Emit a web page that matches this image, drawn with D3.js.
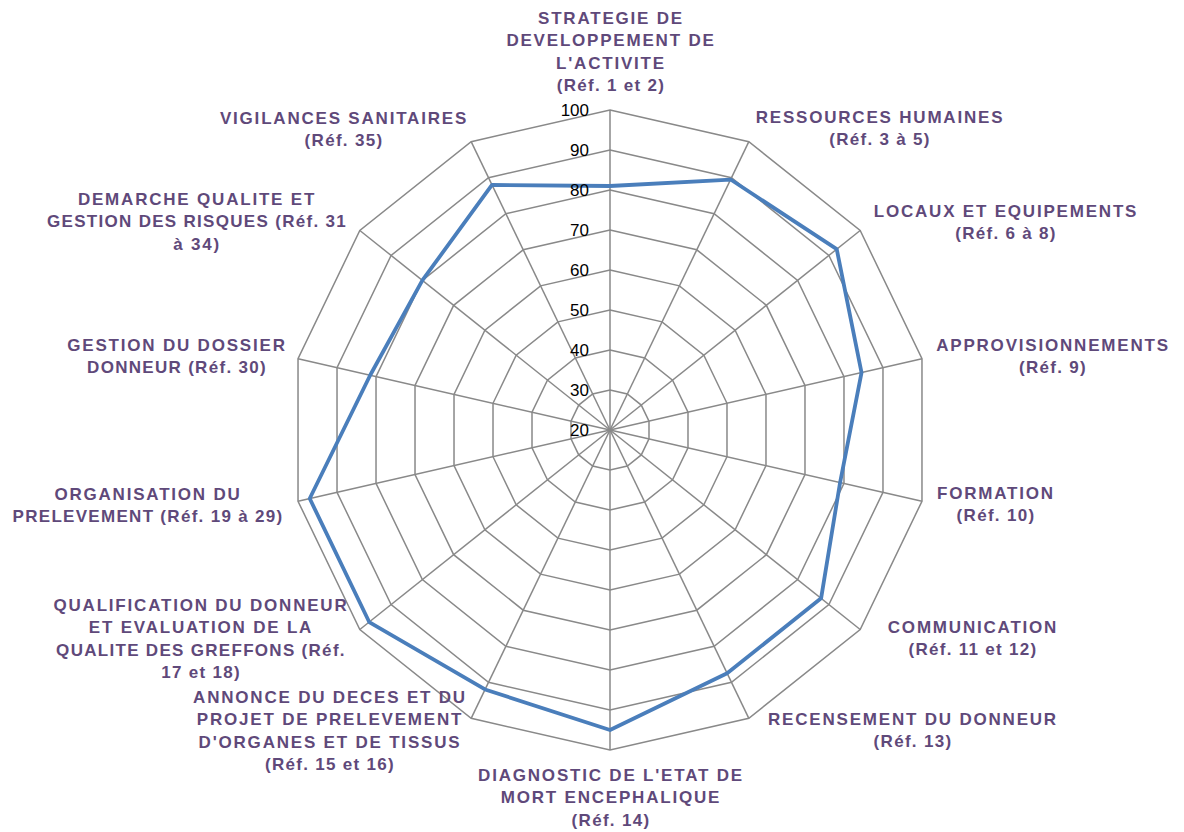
<!DOCTYPE html>
<html>
<head>
<meta charset="utf-8">
<script src="https://cdn.jsdelivr.net/npm/d3@7"></script>
<style>
  html, body { margin: 0; padding: 0; background: #ffffff; }
  svg { display: block; }
</style>
</head>
<body>
<svg id="chart" width="1184" height="832"></svg>
<script>
// ---- Data ----
const categories = [
  "STRATEGIE DE\nDEVELOPPEMENT DE\nL'ACTIVITE\n(Réf. 1 et 2)",
  "RESSOURCES HUMAINES\n(Réf. 3 à 5)",
  "LOCAUX ET EQUIPEMENTS\n(Réf. 6 à 8)",
  "APPROVISIONNEMENTS\n(Réf. 9)",
  "FORMATION\n(Réf. 10)",
  "COMMUNICATION\n(Réf. 11 et 12)",
  "RECENSEMENT DU DONNEUR\n(Réf. 13)",
  "DIAGNOSTIC DE L'ETAT DE\nMORT ENCEPHALIQUE\n(Réf. 14)",
  "ANNONCE DU DECES ET DU\nPROJET DE PRELEVEMENT\nD'ORGANES ET DE TISSUS\n(Réf. 15 et 16)",
  "QUALIFICATION DU DONNEUR\nET EVALUATION DE LA\nQUALITE DES GREFFONS (Réf.\n17 et 18)",
  "ORGANISATION DU\nPRELEVEMENT (Réf. 19 à 29)",
  "GESTION DU DOSSIER\nDONNEUR (Réf. 30)",
  "DEMARCHE QUALITE ET\nGESTION DES RISQUES (Réf. 31\nà 34)",
  "VIGILANCES SANITAIRES\n(Réf. 35)"
];
const scores = [81, 89.5, 92.5, 84.5, 79, 87.5, 87.5, 95, 92, 97, 97, 81.5, 80, 88];
const tickValues = [20, 30, 40, 50, 60, 70, 80, 90, 100];

// ---- Layout (positions of category label blocks: centre x, first line y) ----
const labelAnchors = [
  [611, 18], [880, 117], [1006, 211], [1053, 345], [996, 493], [973, 627],
  [913, 719], [611, 775], [330, 697], [201, 605], [148, 494], [177, 345],
  [197, 199], [344, 118]
];
const lineHeight = 22.6;
const cx = 610, cy = 430, outerR = 320;

const svg = d3.select("#chart");
const g = svg.append("g").attr("transform", `translate(${cx},${cy})`);

const n = categories.length;
const angle = d3.scaleLinear().domain([0, n]).range([0, 2 * Math.PI]);
const r = d3.scaleLinear().domain([20, 100]).range([0, outerR]);

const gridColor = "#898989";

// rings
const ringLine = d3.lineRadial().curve(d3.curveLinearClosed);
tickValues.filter(t => t > 20).forEach(t => {
  g.append("path")
    .attr("d", ringLine(d3.range(n).map(i => [angle(i), r(t)])))
    .attr("fill", "none")
    .attr("stroke", gridColor)
    .attr("stroke-width", 1.5);
});

// spokes
d3.range(n).forEach(i => {
  const a = angle(i);
  g.append("line")
    .attr("x1", 0).attr("y1", 0)
    .attr("x2", r(100) * Math.sin(a))
    .attr("y2", -r(100) * Math.cos(a))
    .attr("stroke", gridColor)
    .attr("stroke-width", 1.5);
});

// data line
const dataLine = d3.lineRadial()
  .angle((d, i) => angle(i))
  .radius(d => r(d))
  .curve(d3.curveLinearClosed);
g.append("path")
  .attr("d", dataLine(scores))
  .attr("fill", "none")
  .attr("stroke", "#4A7EBB")
  .attr("stroke-width", 3.8)
  .attr("stroke-linejoin", "round");

// tick labels
g.selectAll("text.tick")
  .data(tickValues)
  .join("text")
  .attr("class", "tick")
  .attr("x", -21)
  .attr("y", d => -r(d))
  .attr("text-anchor", "end")
  .attr("dominant-baseline", "central")
  .attr("font-family", "'Liberation Sans', Arial, sans-serif")
  .attr("font-size", 17)
  .attr("fill", "#000000")
  .text(d => d);

// category labels
categories.forEach((c, i) => {
  const [lx, ly] = labelAnchors[i];
  const t = svg.append("text")
    .attr("text-anchor", "middle")
    .attr("font-family", "'Liberation Sans', Arial, sans-serif")
    .attr("font-weight", "bold")
    .attr("font-size", 17)
    .attr("fill", "#5F497A");
  c.split("\n").forEach((line, k) => {
    const upper = !/[a-zé]/.test(line);
    t.append("tspan")
      .attr("x", lx)
      .attr("y", ly + k * lineHeight)
      .attr("dominant-baseline", "central")
      .attr("letter-spacing", upper ? "1.8px" : "1.3px")
      .text(line);
  });
});
</script>
</body>
</html>
